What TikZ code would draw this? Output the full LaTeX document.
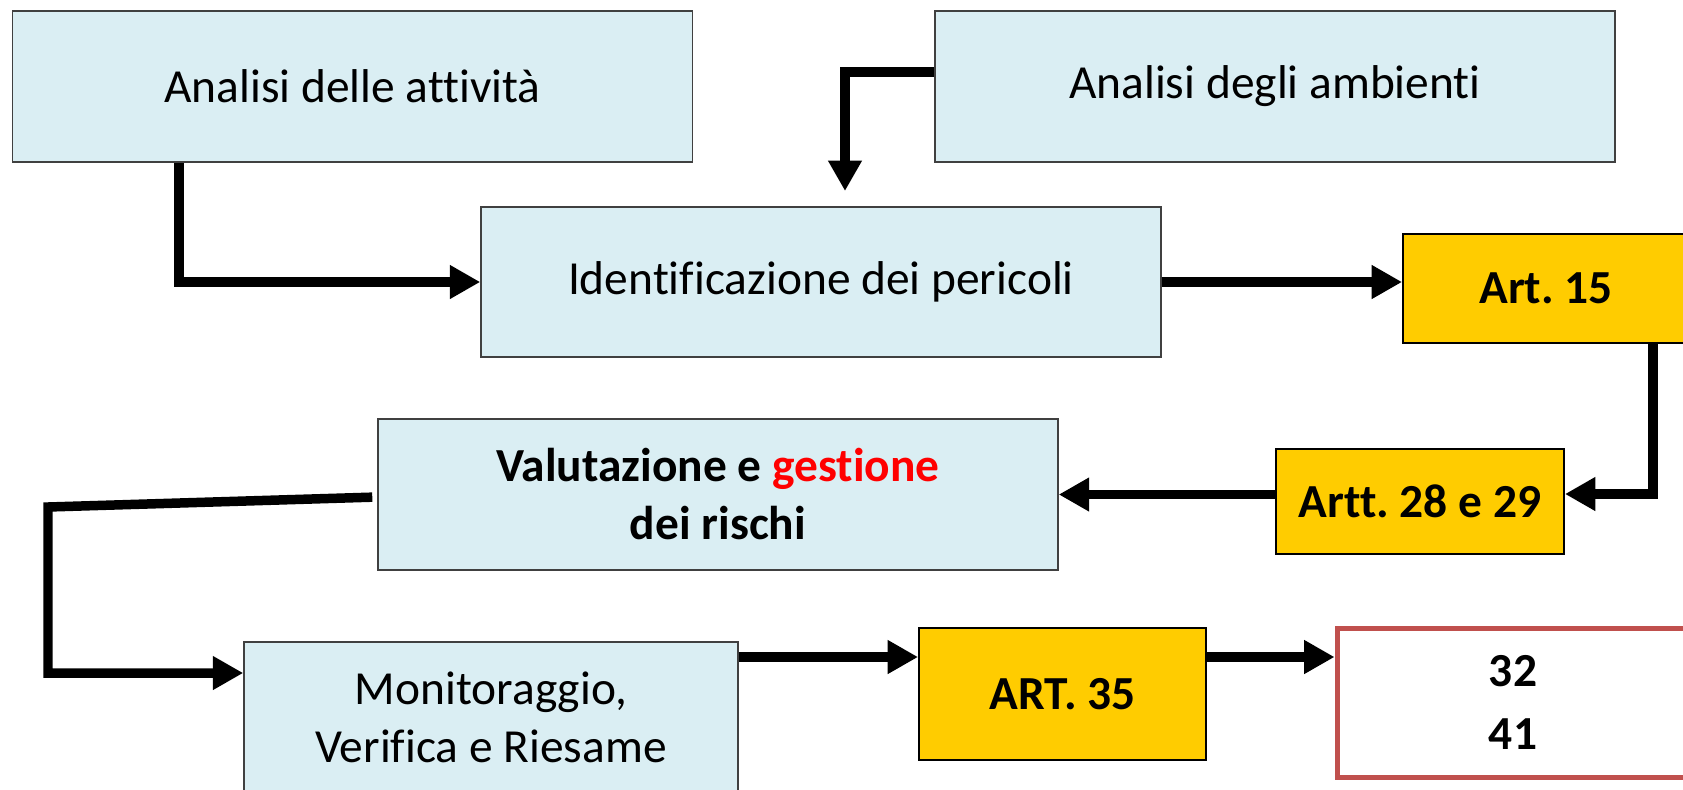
\documentclass[tikz,border=0pt]{standalone}
\usepackage{fontspec}
\setmainfont{Carlito}[Ligatures=CommonOff]
\frenchspacing
\usetikzlibrary{arrows.meta,positioning,calc}
\definecolor{boxblue}{HTML}{DAEEF3}
\definecolor{artyellow}{HTML}{FFCC00}
\definecolor{refred}{HTML}{C0504D}
\definecolor{boxline}{HTML}{404040}

\begin{document}
\begin{tikzpicture}[x=0.02cm,y=-0.02cm,>={Triangle[length=0.61cm,width=0.64cm]},
  every node/.style={font=\fontsize{27}{33}\selectfont,align=center,inner sep=0pt},
  phase/.style={draw=boxline,line width=0.9pt,fill=boxblue,minimum width=13.6cm,minimum height=3.02cm},
  art/.style={draw=black,line width=1.1pt,fill=artyellow,font=\fontsize{27}{33}\selectfont\bfseries},
  link/.style={->,line width=0.19cm}]
\path[use as bounding box] (0,0) rectangle (1683,789);
\clip (0,0) rectangle (1683,789);
\node[phase] (actA) at (352.5,86.5) {Analisi delle attività};
\node[phase] (envB) at (1275,86.5) {Analisi degli ambienti};
\node[phase,minimum height=3cm] (haz) at (821,282) {Identificazione dei pericoli};
\node[art,minimum width=5.72cm,minimum height=2.18cm] (art15) at (1546,288.5) {Art. 15};
\node[art,minimum width=5.76cm,minimum height=2.1cm] (artt) at (1420,501.5) {Artt. 28 e 29};
\node[phase,font=\fontsize{27}{33}\selectfont\bfseries] (val) at (718,494.5) {Valutazione e \textcolor{red}{gestione}\\dei rischi};
\node[phase,minimum width=9.88cm,minimum height=3cm] (mon) at (491,717) {Monitoraggio,\\Verifica e Riesame};
\node[art,minimum width=5.74cm,minimum height=2.64cm] (art35) at (1062.5,694) {ART. 35};
\node[draw=refred,line width=0.1cm,fill=white,minimum width=7.04cm,minimum height=2.98cm,
  font=\fontsize{27}{36}\selectfont\bfseries] (refs) at (1513,702.5) {32\\41};
\coordinate (drop) at (845,191);
\coordinate (bend) at (48,507);
\draw[link] (actA.south -| 179,0) |- (haz.west);
\draw[link] (envB.west |- 0,72) -| (drop);
\draw[link] (haz.east) -- (haz.east -| art15.west);
\draw[link] (art15.south -| 1653,0) |- (artt.east |- 0,494);
\draw[link] (artt.west |- val.east) -- (val.east);
\draw[link,shorten <=0.1cm] (val.west |- 0,497) -- (bend) |- (mon.west |- 0,673);
\draw[link] (mon.east |- 0,657) -- (art35.west |- 0,657);
\draw[link] (art35.east |- 0,657) -- (refs.west |- 0,657);
\end{tikzpicture}
\end{document}
